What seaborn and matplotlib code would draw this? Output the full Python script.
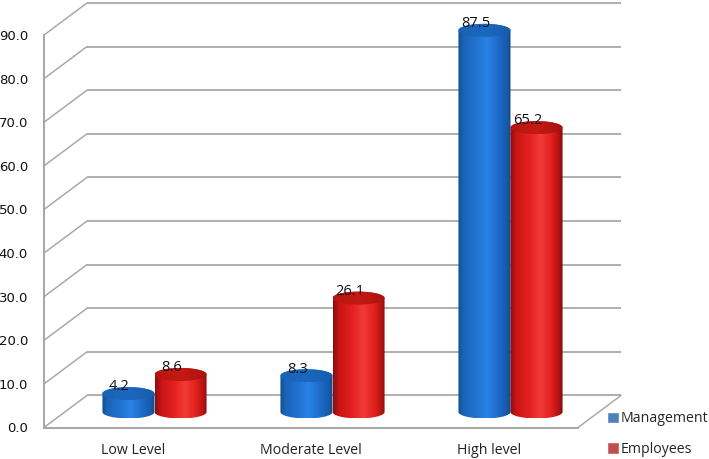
import numpy as np
import pandas as pd
import matplotlib
matplotlib.use("Agg")
import matplotlib.pyplot as plt
from matplotlib.colors import LinearSegmentedColormap
from matplotlib.path import Path
import seaborn as sns

levels = ["Low Level", "Moderate Level", "High level"]
groups = ["Management", "Employees"]
management = [4.2, 8.3, 87.5]
employees = [8.6, 26.1, 65.2]
value_ticks = [0, 10, 20, 30, 40, 50, 60, 70, 80, 90]
legend_colors = ["#4f81bd", "#c0504d"]

# box depth and the flat ellipse of the cylinders, in axis units
DEPTH_X = 43 / 178
DEPTH_Y = 32 / 4.356
ELLIPSE_Y = 6.5 / 4.356
GRID = "#a6a6a6"

body_cmaps = [
    LinearSegmentedColormap.from_list("blue_body", [
        (0, "#14508f"), (0.1, "#1a64b8"), (0.35, "#2273d2"), (0.55, "#2b82e6"),
        (0.78, "#1b69c6"), (0.93, "#165aa8"), (1, "#114a88")]),
    LinearSegmentedColormap.from_list("red_body", [
        (0, "#8e0d0d"), (0.12, "#c81616"), (0.35, "#e42020"), (0.58, "#f23a34"),
        (0.8, "#de1f1c"), (0.93, "#b01212"), (1, "#7f0c0c")]),
]
top_cmaps = [
    LinearSegmentedColormap.from_list("blue_top", ["#1a62b4", "#1c68c0", "#185cab"]),
    LinearSegmentedColormap.from_list("red_top", ["#b81510", "#c41a12", "#a81210"]),
]


def ellipse_points(cx, cy, rx, start, stop):
    t = np.linspace(start, stop, 60)
    return np.column_stack([cx + rx * np.cos(t), cy + ELLIPSE_Y * np.sin(t)])


def draw_gradient(ax, pts, extent, cmap, zorder):
    grad = np.linspace(0, 1, 128)[None, :]
    im = ax.imshow(grad, cmap=cmap, extent=extent, aspect="auto",
                   interpolation="bilinear", zorder=zorder, origin="lower")
    im.set_clip_box(ax.figure.bbox)
    im.set_clip_path(Path(np.vstack([pts, pts[:1]])), ax.transData)


def draw_cylinder(ax, x, w, value, idx, zorder):
    rx = w / 2
    cx = x + rx
    base = DEPTH_Y * 0.485
    top = base + value
    body = np.vstack([ellipse_points(cx, base, rx, np.pi, 2 * np.pi),
                      ellipse_points(cx, top, rx, 0, np.pi)])
    lid = ellipse_points(cx, top, rx, 0, 2 * np.pi)
    draw_gradient(ax, body, (x, x + w, base - ELLIPSE_Y, top + ELLIPSE_Y),
                  body_cmaps[idx], zorder)
    draw_gradient(ax, lid, (x, x + w, top - ELLIPSE_Y, top + ELLIPSE_Y),
                  top_cmaps[idx], zorder + 0.1)
    return cx, top


sns.set_theme(style="white")
plt.rcParams["font.family"] = ["Open Sans", "DejaVu Sans"]

df = pd.DataFrame({
    "level": levels * 2,
    "group": [groups[0]] * 3 + [groups[1]] * 3,
    "value": management + employees,
})

fig = plt.figure(figsize=(7.09, 4.59), dpi=100)
ax = fig.add_axes([44 / 709, (459 - 427.5) / 459, 534 / 709, 392.5 / 459])
sns.barplot(data=df, x="level", y="value", hue="group", order=levels, hue_order=groups,
            palette=legend_colors, width=0.585, gap=0, saturation=1, ax=ax)

# flat seaborn bars only give the geometry, the cylinders are painted over them
for i, container in enumerate(ax.containers):
    for bar in container:
        bar.set_visible(False)
        x = bar.get_x() + DEPTH_X / 2
        value = bar.get_height()
        cx, top = draw_cylinder(ax, x, bar.get_width(), value, i, 3 + i)
        ax.annotate(f"{value:.1f}", (cx, top), xytext=(-6.5, 4.8), textcoords="offset points",
                    ha="center", va="center", fontsize=10.5, color="#111111", zorder=10,
                    annotation_clip=False)

# back wall, side wall and floor lines
right = len(levels) - 0.5
for v in value_ticks:
    ax.plot([-0.5 + DEPTH_X, right + DEPTH_X], [v + DEPTH_Y, v + DEPTH_Y], color=GRID,
            lw=1.25, clip_on=False, zorder=1, solid_capstyle="butt")
    ax.plot([-0.5, -0.5 + DEPTH_X], [v, v + DEPTH_Y], color=GRID, lw=1.05, clip_on=False, zorder=1)
ax.plot([right, right + DEPTH_X], [0, DEPTH_Y], color=GRID, lw=1.05, clip_on=False, zorder=1)

ax.set_xlim(-0.5, right)
ax.set_ylim(0, 90)
ax.set_xlabel("")
ax.set_ylabel("")
ax.set_yticks(value_ticks)
ax.set_yticklabels([f"{v:.1f}" for v in value_ticks], family=["DejaVu Sans"], fontsize=9.5, color="#111111")
ax.set_xticks(range(len(levels)))
ax.set_xticklabels(levels, fontsize=10.2, color="#222222")
ax.set_xticks(np.arange(-0.5, len(levels)), minor=True)
ax.tick_params(axis="y", length=0, pad=11.5)
ax.tick_params(axis="x", which="major", length=0, pad=11)
ax.tick_params(axis="x", which="minor", length=4.5, width=1.2, color=GRID)
ax.patch.set_visible(False)
for side in ["top", "right"]:
    ax.spines[side].set_visible(False)
for side in ["left", "bottom"]:
    ax.spines[side].set_color(GRID)
    ax.spines[side].set_linewidth(1.4)

sns.move_legend(ax, loc="center left", bbox_to_anchor=(607 / 709, 1 - 434 / 459),
                bbox_transform=fig.transFigure, title=None, frameon=False, fontsize=10.2,
                handlelength=0.85, handleheight=0.85, handletextpad=0.12,
                labelspacing=1.1, borderpad=0, borderaxespad=0)

fig.savefig("out.png", dpi=100)
